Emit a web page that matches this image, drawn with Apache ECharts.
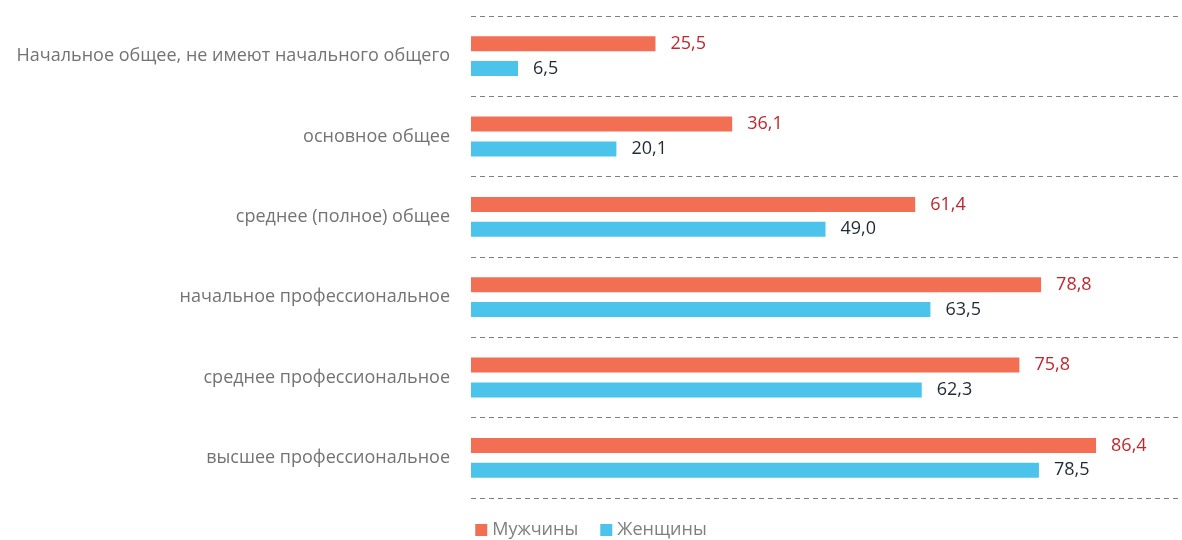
<!DOCTYPE html>
<html><head><meta charset="utf-8">
<script src="https://cdn.jsdelivr.net/npm/echarts@6/dist/echarts.min.js"></script>
<style>html,body{margin:0;padding:0;background:#fff}#c{width:1182px;height:540px}</style>
</head><body><div id="c"></div>
<script>
const categories = ['Начальное общее, не имеют начального общего','основное общее','среднее (полное) общее','начальное профессиональное','среднее профессиональное','высшее профессиональное'];
const men = [25.5, 36.1, 61.4, 78.8, 75.8, 86.4];
const women = [6.5, 20.1, 49.0, 63.5, 62.3, 78.5];
const seriesNames = ['Мужчины','Женщины'];
const FONT = 'Open Sans';
const fmt = p => p.value.toFixed(1).replace('.', ',');
const chart = echarts.init(document.getElementById('c'));
chart.setOption({
  animation: false,
  textStyle: {fontFamily: FONT},
  grid: {left: 471, right: 2, top: 16, bottom: 42, containLabel: false},
  legend: {
    top: 521, left: 'center', itemWidth: 12, itemHeight: 12, itemGap: 22,
    icon: 'rect', padding: 0,
    textStyle: {color: '#7f7f7f', fontSize: 18, fontFamily: FONT},
    data: seriesNames
  },
  xAxis: {type: 'value', min: 0, max: 98, show: false},
  yAxis: {
    type: 'category', data: categories, inverse: true,
    axisLine: {show: false}, axisTick: {show: false},
    axisLabel: {color: '#737373', fontSize: 18, margin: 21, fontFamily: FONT},
    splitLine: {show: true, lineStyle: {color: '#7f7f7f', type: [5, 4], width: 1}}
  },
  series: [
    {name: seriesNames[0], type: 'bar', data: men, barWidth: 15, barGap: '66%',
     itemStyle: {color: '#F26F53'},
     label: {show: true, position: 'right', distance: 15, color: '#C0272D', fontSize: 18, fontFamily: FONT, formatter: fmt}},
    {name: seriesNames[1], type: 'bar', data: women, barWidth: 15,
     itemStyle: {color: '#4BC3EB'},
     label: {show: true, position: 'right', distance: 15, color: '#1F2A36', fontSize: 18, fontFamily: FONT, formatter: fmt}}
  ]
});
</script></body></html>
